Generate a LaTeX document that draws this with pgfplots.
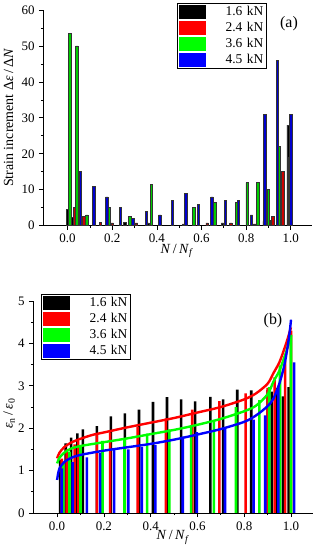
\documentclass[border=0pt]{standalone}
\usepackage{fontspec}
\setmainfont{Liberation Serif}
\usepackage{pgfplots}
\pgfplotsset{compat=1.18}
\definecolor{cR}{HTML}{FF0000}
\definecolor{cG}{HTML}{00FF00}
\definecolor{cB}{HTML}{0000FF}
\pgfplotsset{
  common/.style={
    scale only axis,
    axis x line*=bottom, axis y line*=left,
    axis line style={black, line width=0.8bp},
    tick align=outside, major tick length=4bp, minor tick length=2bp,
    tick style={black, line width=0.7bp},
    minor x tick num=1, minor y tick num=1,
    /pgf/number format/assume math mode=true,
    xtick={0,0.2,0.4,0.6,0.8,1.0},
    xticklabel style={/pgf/number format/.cd, fixed, fixed zerofill, precision=1},
    tick label style={font=\fontsize{13}{15}\selectfont},
    label style={font=\fontsize{14}{16}\selectfont},
    legend style={draw=black, line width=0.6bp, inner xsep=1.5bp, inner ysep=0.5bp,
      font=\fontsize{13.5}{15}\selectfont,
      nodes={text width=57bp, align=right, text height=9.5bp, text depth=2.5bp, inner ysep=2bp, inner xsep=1bp}},
  },
  sw/.style={legend image code/.code={\fill[#1] (0bp,-6.3bp) rectangle (26bp,6.3bp);}},
  bara/.style={ybar, bar shift=0pt, bar width=2.4bp, fill=#1!80!black, draw=black!80, line width=0.6bp, forget plot},
  barb/.style={ybar, bar shift=0pt, bar width=2.6bp, fill=#1, draw=none, forget plot},
  curve/.style={#1, line width=2.4bp, no marks, smooth, forget plot},
}
\begin{document}
\fontsize{13}{15}\selectfont
\begin{tikzpicture}
\useasboundingbox (0bp,0bp) rectangle (319bp,550bp);
% ---------------- (a)
\begin{axis}[common,
  at={(43bp,324.3bp)}, anchor=south west,
  width=269bp, height=215.7bp,
  xmin=-0.11, xmax=1.095, ymin=0, ymax=60,
  ytick={0,10,20,30,40,50,60},
  xlabel={\textit{N}\,/\,\textit{N}\textsubscript{\textit{f}}},
  xlabel style={at={(axis description cs:0.498,-0.118)}, anchor=center},
  ylabel={Strain increment Δ\textit{ε}\,/\,Δ\textit{N}},
  ylabel style={at={(axis description cs:-0.128,0.5)}, anchor=center},
  legend style={at={(axis description cs:0.498,1.032)}, anchor=north west},
]
\addplot[bara=black] coordinates {(0.0,4.5)(0.02,2.2)(0.066,1.5)(0.256,1)(0.36,0.8)(0.694,0.8)(0.88,1.2)(0.988,28)};
\addplot[bara=cR] coordinates {(0.03,5)(0.05,7.5)(0.072,2.5)(0.147,1)(0.2,0.8)(0.308,0.8)(0.52,0.5)(0.625,0.8)(0.731,0.8)(0.838,0.5)(0.905,1.5)(0.92,2.5)(0.965,15)};
\addplot[bara=cG] coordinates {(0.01,53.5)(0.042,50)(0.087,3)(0.185,5)(0.278,2.5)(0.375,11.5)(0.566,5)(0.66,6.5)(0.757,6.5)(0.804,12)(0.853,12)(0.898,10)(0.947,22)(0.995,19)};
\addplot[bara=cB] coordinates {(0.058,15)(0.118,11)(0.176,8)(0.236,5)(0.293,2)(0.353,4)(0.413,3)(0.47,7)(0.53,9)(0.587,6)(0.647,8)(0.707,7)(0.765,7)(0.824,3)(0.883,31)(0.94,46)(1.0,31)};
\addlegendimage{sw=black}\addlegendentry{1.6 kN}
\addlegendimage{sw=cR}\addlegendentry{2.4 kN}
\addlegendimage{sw=cG}\addlegendentry{3.6 kN}
\addlegendimage{sw=cB}\addlegendentry{4.5 kN}
\end{axis}
\node[font=\fontsize{16}{18}\selectfont] at (289bp,526bp) {(a)};
% ---------------- (b)
\begin{axis}[common,
  at={(33bp,37bp)}, anchor=south west,
  width=280bp, height=212bp,
  xmin=-0.103, xmax=1.094, ymin=0, ymax=5,
  ytick={0,1,2,3,4,5},
  xlabel={\textit{N}\,/\,\textit{N}\textsubscript{\textit{f}}},
  xlabel style={at={(axis description cs:0.5,-0.115)}, anchor=center},
  ylabel={\textit{ε}\textsubscript{n}\,/\,\textit{ε}\textsubscript{0}},
  ylabel style={at={(axis description cs:-0.085,0.47)}, anchor=center},
  legend style={at={(axis description cs:0.0286,1.033)}, anchor=north west},
]
\addplot[barb=black] coordinates {(0.013,1.25)(0.037,1.64)(0.06,1.78)(0.087,1.88)(0.11,1.97)(0.17,2.05)(0.23,2.28)(0.29,2.35)(0.35,2.44)(0.41,2.62)(0.47,2.73)(0.53,2.68)(0.59,2.63)(0.655,2.74)(0.71,2.68)(0.77,2.91)(0.83,2.89)(0.9,2.9)(0.917,2.86)(0.935,2.95)(0.945,2.74)(0.965,2.75)(0.99,2.97)};
\addplot[barb=cR] coordinates {(0.02,1.28)(0.041,1.5)(0.075,1.62)(0.09,1.7)(0.17,1.85)(0.227,1.9)(0.345,2.03)(0.465,2.23)(0.578,2.44)(0.694,2.64)(0.806,2.82)(0.9,2.95)(0.93,3.2)(0.975,3.6)(1.0,4.3)};
\addplot[barb=cG] coordinates {(0.027,1.2)(0.053,1.45)(0.1,1.6)(0.194,1.7)(0.288,1.76)(0.385,1.87)(0.48,1.97)(0.573,2.07)(0.67,2.17)(0.765,2.5)(0.865,2.66)(0.907,2.97)(0.953,3.48)(1.0,4.2)};
\addplot[barb=cB] coordinates {(0.02,1.05)(0.067,1.2)(0.127,1.31)(0.184,1.42)(0.244,1.48)(0.305,1.5)(0.362,1.56)(0.42,1.6)(0.537,1.8)(0.597,1.91)(0.718,2.0)(0.84,2.2)(0.89,2.3)(0.946,3.0)(1.013,3.55)};
\addplot[curve=cR] coordinates {(0,1.29)(0.01,1.42)(0.03,1.55)(0.06,1.66)(0.1,1.75)(0.15,1.84)(0.2,1.9)(0.3,2.02)(0.4,2.13)(0.5,2.24)(0.6,2.37)(0.7,2.5)(0.8,2.68)(0.85,2.82)(0.9,3.05)(0.925,3.3)(0.95,3.55)(0.97,3.85)(0.985,4.1)(1.0,4.38)};
\addplot[curve=cG] coordinates {(0,1.17)(0.01,1.3)(0.03,1.42)(0.06,1.52)(0.1,1.58)(0.2,1.67)(0.3,1.76)(0.4,1.86)(0.5,1.96)(0.6,2.08)(0.7,2.22)(0.8,2.4)(0.85,2.53)(0.9,2.8)(0.925,3.1)(0.95,3.35)(0.97,3.65)(0.985,3.9)(1.0,4.19)};
\addplot[curve=cB] coordinates {(0,0.78)(0.005,0.95)(0.01,1.05)(0.03,1.2)(0.06,1.3)(0.1,1.37)(0.2,1.47)(0.3,1.55)(0.4,1.63)(0.5,1.73)(0.6,1.85)(0.7,1.98)(0.8,2.15)(0.85,2.3)(0.9,2.52)(0.925,2.7)(0.95,3.05)(0.97,3.45)(0.985,3.9)(0.995,4.3)(1.0,4.56)};
\addlegendimage{sw=black}\addlegendentry{1.6 kN}
\addlegendimage{sw=cR}\addlegendentry{2.4 kN}
\addlegendimage{sw=cG}\addlegendentry{3.6 kN}
\addlegendimage{sw=cB}\addlegendentry{4.5 kN}
\end{axis}
\node[font=\fontsize{16}{18}\selectfont] at (273bp,229bp) {(b)};
\end{tikzpicture}
\end{document}
